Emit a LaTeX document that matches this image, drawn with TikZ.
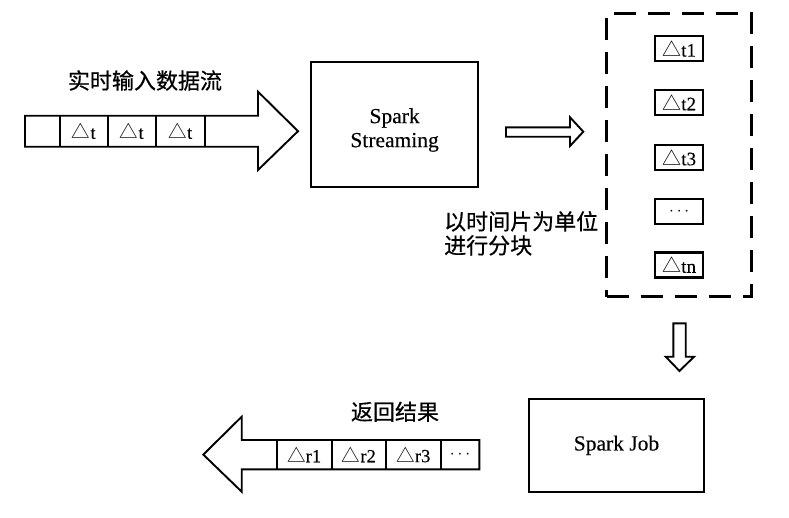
\documentclass[tikz,border=0pt]{standalone}
\usepackage{fontspec}
\setmainfont[FakeBold=0.25]{Liberation Serif}
\newfontfamily\cjk[FakeBold=0.6]{Noto Sans CJK SC}
\newfontfamily\cjksym{Noto Sans CJK SC}
\newcommand\tri{{\cjksym △}}
\begin{document}
\begin{tikzpicture}[x=1pt,y=-1pt,
  outl/.style={line width=1.9pt,line join=miter},
  cellt/.style={font=\fontsize{18.5}{18}\selectfont,inner sep=0pt},
  tbox/.style={draw,line width=2.1pt,minimum width=48pt,minimum height=25pt,inner sep=0pt,font=\fontsize{19}{19}\selectfont},
  cn/.style={font=\cjk\fontsize{22}{24}\selectfont,inner sep=0pt},
  lt/.style={font=\fontsize{21.5}{24}\selectfont,align=center,inner sep=0pt}]
\useasboundingbox (0,0) rectangle (789,517);

% big input arrow
\draw[outl] (25,115.7) -- (258,115.7) -- (258,91.7) -- (298,131.2) -- (258,170) -- (258,146.7) -- (25,146.7) -- cycle;
\foreach \x in {60,107.7,156,205} \draw[outl] (\x,115.7) -- (\x,146.7);
\node[cellt] (c1) at (83.8,131.2) {\tri t};
\node[cellt] (c2) at (131.8,131.2) {\tri t};
\node[cellt] (c3) at (180.5,131.2) {\tri t};
\node[cn] (title) at (145,80.5) {实时输入数据流};

% Spark Streaming
\node[draw,line width=1.9pt,minimum width=167pt,minimum height=125pt,inner sep=0pt] (ss) at (394.6,124.2) {};
\node[lt] (sst) at (394.6,130) {Spark\\Streaming};

% small right arrow
\draw[outl] (506,127.3) -- (570,127.3) -- (570,117.3) -- (583.3,131.7) -- (570,146) -- (570,136.7) -- (506,136.7) -- cycle;

% dashed container
\node[draw,line width=2.5pt,dash pattern=on 22pt off 12pt,minimum width=145pt,minimum height=283.4pt,inner sep=0pt] (dc) at (679.2,155) {};
\node[tbox] (t1) at (679.2,48.8) {\tri t1};
\node[tbox] (t2) at (679.2,102.5) {\tri t2};
\node[tbox] (t3) at (679.2,157.5) {\tri t3};
\node[tbox,font=\fontsize{17}{17}\selectfont] (t4) at (679.2,211.5) {$\cdots$};
\node[tbox] (tn) at (679.2,265) {\tri tn};
\node[cn,anchor=west,align=left] (lbl) at (444,233.3) {以时间片为单位\\进行分块};

% down arrow
\draw[outl] (673.3,323.3) -- (685.7,323.3) -- (685.7,356.7) -- (694,356.7) -- (679.5,371) -- (665.7,356.7) -- (673.3,356.7) -- cycle;

% Spark Job
\node[draw,line width=1.9pt,minimum width=175pt,minimum height=92.7pt,inner sep=0pt] (sj) at (616.5,445.3) {};
\node[lt] (sjt) at (616.5,445.3) {Spark Job};

% output arrow
\draw[outl] (479.3,440) -- (241.7,440) -- (241.7,416.7) -- (203.3,454.6) -- (241.7,491.7) -- (241.7,469.3) -- (479.3,469.3) -- cycle;
\foreach \x in {276.7,331.7,386,440.7} \draw[outl] (\x,440) -- (\x,469.3);
\node[cellt] (r1) at (304.2,454.6) {\tri r1};
\node[cellt] (r2) at (358.9,454.6) {\tri r2};
\node[cellt] (r3) at (413.4,454.6) {\tri r3};
\node[cellt,font=\fontsize{16}{16}\selectfont] (r4) at (460,454.6) {$\cdots$};
\node[cn] (ret) at (395,411.7) {返回结果};
\end{tikzpicture}
\end{document}
